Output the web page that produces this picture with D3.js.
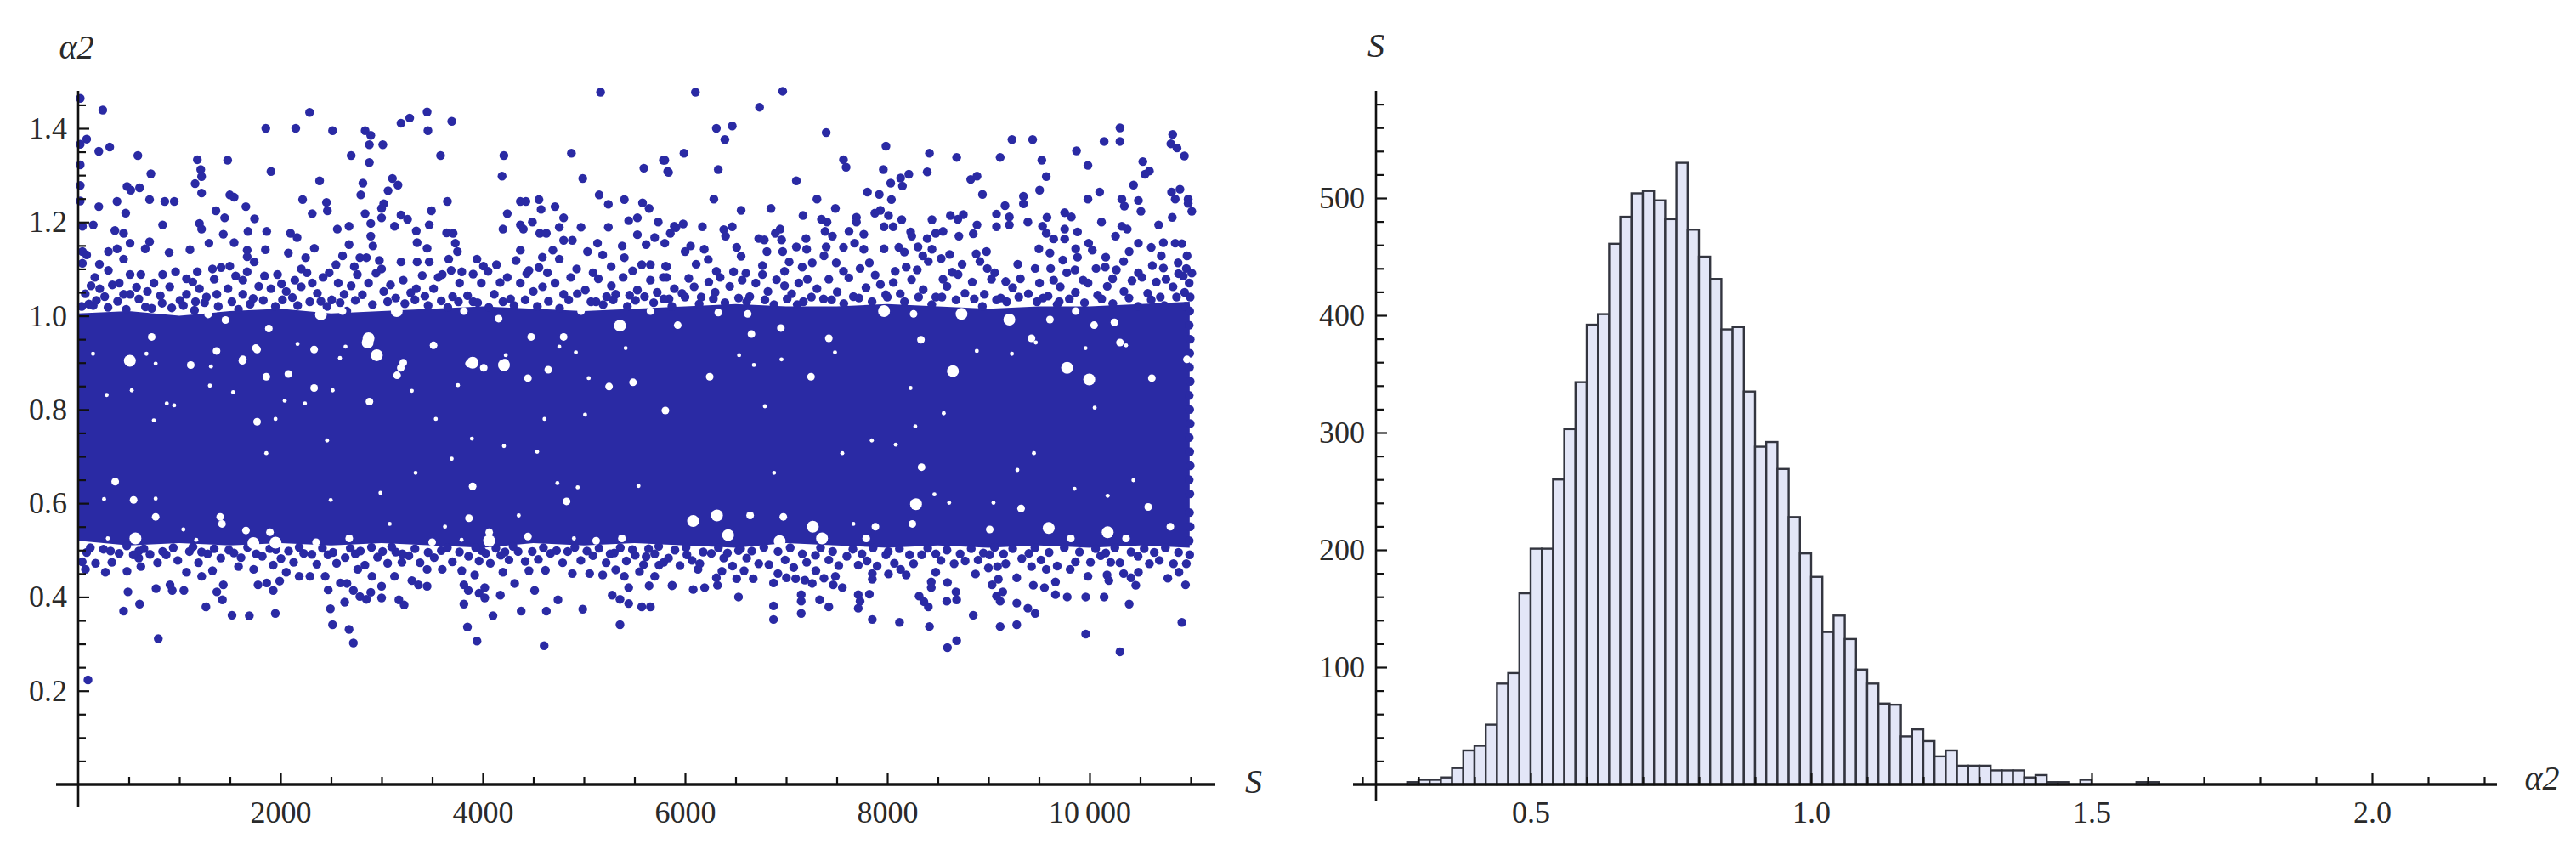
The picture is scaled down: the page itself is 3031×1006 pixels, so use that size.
<!DOCTYPE html>
<html><head><meta charset="utf-8">
<script src="https://cdn.jsdelivr.net/npm/d3@7"></script>
<style>html,body{margin:0;background:#fff}svg{display:block}text{font-family:"Liberation Serif",serif;fill:#2a2a2a}</style>
</head><body><svg id="c" width="3031" height="1006"></svg>
<script>
// In the solid middle of the cloud single points cannot be resolved, so it is an estimated
// envelope (coreS/coreLow/coreHigh) with the visible white gaps listed by size.
// upperExtra, lowerExtra, upperEdge and lowerEdge are hand-estimated dots for the busy zones next to the solid core.
const upperLeft=[[243,1.439],[20,1.464],[2288,1.434],[3450,1.435],[3694,1.415],[3278,1.422],[3192,1.411],[1855,1.4],[2151,1.4],[2515,1.395],[2837,1.395],[2893,1.385],[3458,1.395],[84,1.377],[20,1.366],[204,1.351],[312,1.36],[590,1.342],[1178,1.333],[1478,1.332],[1212,1.312],[1220,1.297],[719,1.303],[1906,1.308],[2699,1.342],[2879,1.365],[3012,1.365],[2879,1.327],[3583,1.342],[4209,1.342],[4877,1.347],[5165,1.477],[5786,1.332],[5593,1.315],[5829,1.308],[4191,1.298],[4989,1.293],[2387,1.288],[2815,1.283],[3107,1.293],[3162,1.279],[483,1.276],[607,1.273],[520,1.268],[1156,1.282],[1220,1.262],[1499,1.258],[1542,1.253],[2794,1.258],[3064,1.267],[706,1.248],[856,1.244],[950,1.244],[384,1.244],[204,1.233],[2219,1.248],[2455,1.242],[2464,1.224],[1658,1.233],[3021,1.239],[3000,1.229],[3651,1.244],[4372,1.244],[4427,1.244],[4556,1.248],[4577,1.227],[4715,1.233],[5151,1.258],[5242,1.238],[5400,1.248],[5580,1.241],[5645,1.229],[1362,1.224],[1448,1.209],[1744,1.207],[470,1.219],[2314,1.218],[2837,1.218],[3493,1.224],[3192,1.215],[3257,1.206],[4243,1.218],[4800,1.209],[5529,1.209],[5443,1.203],[5735,1.2],[835,1.194],[149,1.194],[42,1.191],[1199,1.197],[1220,1.185],[2893,1.197],[3000,1.209],[2678,1.191],[2562,1.185],[3128,1.191],[3471,1.194],[3343,1.181],[4200,1.185],[4372,1.194],[4402,1.185],[4491,1.2],[4757,1.189],[4972,1.189],[5242,1.189],[4564,1.176],[4629,1.176],[363,1.182],[449,1.176],[1679,1.18],[1864,1.18],[1435,1.174],[2099,1.176],[3643,1.177],[3707,1.176],[20,1.322],[20,1.278],[20,1.245]];
const midLeft=[[42,1.137],[84,1.13],[42,1.112],[299,1.137],[385,1.143],[513,1.155],[663,1.143],[706,1.158],[449,1.121],[299,1.097],[899,1.135],[1105,1.141],[1293,1.155],[1542,1.156],[1671,1.14],[1671,1.126],[1851,1.141],[2078,1.134],[2164,1.167],[2335,1.144],[2249,1.124],[2206,1.1],[2678,1.152],[2614,1.128],[2549,1.109],[2785,1.124],[2850,1.124],[2893,1.17],[2914,1.149],[2978,1.118],[3000,1.1],[3192,1.115],[3351,1.156],[3450,1.144],[3351,1.115],[3471,1.115],[3664,1.121],[3729,1.155],[3750,1.137],[3943,1.121],[4007,1.106],[4136,1.109],[4329,1.118],[4372,1.14],[4457,1.097],[4556,1.103],[4693,1.14],[4757,1.121],[4800,1.161],[4886,1.161],[4929,1.1],[5036,1.137],[5135,1.155],[5186,1.13],[5379,1.149],[5400,1.124],[5529,1.173],[5615,1.152],[5700,1.167],[5572,1.109],[5658,1.109],[5808,1.106],[5894,1.191],
[127,1.064],[213,1.058],[106,1.025],[513,1.088],[406,1.07],[449,1.046],[620,1.088],[749,1.07],[685,1.052],[513,1.046],[835,1.088],[963,1.094],[1071,1.079],[1071,1.046],[1199,1.058],[1178,1.094],[1328,1.1],[1413,1.103],[1499,1.106],[1371,1.046],[1628,1.076],[1671,1.094],[1628,1.046],[1842,1.085],[1971,1.088],[1906,1.058],[2057,1.052],[2142,1.076],[2314,1.07],[2421,1.082],[2571,1.07],[2699,1.064],[2871,1.07],[3021,1.052],[3214,1.076],[3343,1.058],[3514,1.058],[3600,1.088],[3771,1.07],[3793,1.094],[3986,1.07],[4114,1.046],[4243,1.082],[4372,1.07],[4500,1.052],[4715,1.07],[4800,1.046],[5014,1.055],[5143,1.079],[5272,1.064],[5315,1.046],[5529,1.055],[5658,1.076],[5786,1.082],[5894,1.058],[2400,1.031],[2507,1.034],[2656,1.01],[727,1.016],[149,1.022]];
const upperRight=[[6103,1.477],[6966,1.479],[6737,1.445],[6310,1.4],[6467,1.405],[6394,1.376],[7396,1.391],[10301,1.401],[10301,1.372],[10144,1.372],[9233,1.376],[9437,1.376],[10822,1.387],[10804,1.367],[10865,1.358],[10938,1.341],[7987,1.362],[8417,1.347],[5990,1.347],[5800,1.332],[5837,1.306],[6329,1.312],[7567,1.333],[7593,1.317],[8686,1.338],[9116,1.338],[9528,1.332],[9871,1.352],[9984,1.321],[10527,1.329],[10592,1.309],[10548,1.302],[7961,1.312],[8395,1.307],[8213,1.302],[8132,1.294],[8150,1.277],[8034,1.283],[8887,1.298],[8825,1.291],[9572,1.297],[7101,1.288],[10435,1.279],[9506,1.268],[7804,1.264],[7921,1.259],[8941,1.259],[10100,1.264],[9984,1.249],[10811,1.264],[10894,1.27],[10847,1.249],[10319,1.249],[10344,1.234],[10483,1.246],[10508,1.223],[10975,1.249],[10975,1.24],[11011,1.223],[6285,1.249],[7305,1.249],[8041,1.248],[9346,1.255],[9346,1.239],[9164,1.235],[7487,1.229],[6850,1.229],[6555,1.225],[7932,1.225],[7877,1.219],[8012,1.214],[7167,1.214],[9080,1.217],[8624,1.214],[8752,1.216],[8697,1.206],[9754,1.22],[9820,1.211],[9579,1.21],[10818,1.21],[7695,1.21],[7695,1.2],[7349,1.206],[7404,1.2],[8143,1.205],[8442,1.205],[9207,1.211],[9207,1.194],[9390,1.2],[10118,1.2],[8887,1.194],[9080,1.19],[10683,1.194],[10319,1.191],[10373,1.185],[10257,1.17],[5982,1.196],[5910,1.188],[5855,1.176],[5800,1.155],[6172,1.19],[6467,1.19],[6383,1.184],[6401,1.17],[6941,1.185],[6893,1.176],[7968,1.19],[8059,1.19],[7622,1.18],[7768,1.174],[7385,1.18],[7458,1.17],[8231,1.179],[8242,1.17],[8551,1.18],[8479,1.176],[8850,1.175],[8708,1.17],[8395,1.165],[9535,1.191],[9572,1.176],[9645,1.164],[9754,1.185],[9881,1.179],[9754,1.164],[6729,1.165],[6784,1.162],[6955,1.162],[7196,1.165]];
const midRight=[[10483,1.155],[10610,1.146],[10730,1.156],[10847,1.155],[10913,1.154],[9991,1.155],[10027,1.14],[6055,1.149],[6001,1.137],[6190,1.142],[6511,1.146],[6555,1.127],[6810,1.137],[6966,1.137],[7101,1.147],[7203,1.142],[7396,1.147],[7374,1.128],[7567,1.146],[7677,1.155],[7768,1.142],[7968,1.143],[8114,1.146],[8169,1.136],[8304,1.147],[8442,1.142],[8351,1.128],[8617,1.131],[8533,1.122],[8981,1.137],[8879,1.132],[8916,1.116],[9499,1.143],[9608,1.134],[9736,1.119],[9863,1.143],[9881,1.125],[10392,1.137],[10337,1.116],[10709,1.128],[10964,1.128],[10876,1.113],[10621,1.107],[10730,1.102],[10957,1.101],[11011,1.091],[10927,1.085],[6110,1.11],[5818,1.105],[6310,1.095],[6347,1.082],[6766,1.107],[6766,1.088],[6984,1.095],[7258,1.113],[7159,1.104],[7495,1.113],[7567,1.095],[7823,1.113],[7731,1.101],[8296,1.098],[8078,1.095],[8187,1.104],[8406,1.116],[8642,1.093],[9062,1.092],[8989,1.101],[9462,1.101],[9615,1.101],[9856,1.098],[10064,1.101],[10155,1.104],[10483,1.092],[6602,1.091],[6565,1.076],[7210,1.078],[7422,1.078],[9171,1.073],[9316,1.079],[9645,1.076],[9936,1.076],[8551,1.078],[10756,1.078],[6984,1.064],[10228,1.079],[10519,1.082],[7932,1.067],[6037,1.08],[5818,1.082]];
const upperExtra=[[70,1.047],[165,1.082],[262,1.041],[338,1.066],[577,1.061],[812,1.043],[905,1.062],[1007,1.033],[1133,1.072],[1268,1.04],[1345,1.078],[1481,1.058],[1557,1.085],[1730,1.037],[1785,1.063],[2010,1.068],[2118,1.039],[2205,1.062],[2262,1.092],[2365,1.048],[2482,1.092],[2630,1.046],[2760,1.088],[2810,1.045],[2945,1.091],[3088,1.066],[3140,1.038],[3288,1.049],[3402,1.086],[3428,1.042],[3560,1.082],[3702,1.041],[3688,1.097],[3850,1.043],[3905,1.089],[4052,1.095],[4172,1.071],[4275,1.036],[4435,1.09],[4592,1.062],[4640,1.092],[4870,1.082],[4935,1.047],[5091,1.092],[5225,1.041],[5388,1.082],[5452,1.044],[5482,1.096],[5600,1.041],[5725,1.05],[5842,1.036],[5970,1.048],[6090,1.062],[6160,1.04],[6235,1.072],[6298,1.05],[6442,1.063],[6480,1.094],[6640,1.041],[6700,1.07],[6820,1.052],[6905,1.077],[7055,1.047],[7125,1.07],[7305,1.058],[7370,1.036],[7505,1.051],[7620,1.081],[7665,1.041],[7790,1.06],[7880,1.087],[7985,1.045],[8060,1.071],[8128,1.047],[8240,1.077],[8355,1.056],[8480,1.04],[8590,1.063],[8700,1.088],[8768,1.048],[8840,1.072],[8960,1.046],[9030,1.078],[9122,1.038],[9240,1.06],[9395,1.047],[9505,1.07],[9590,1.042],[9710,1.062],[9775,1.092],[9860,1.05],[9985,1.07],[10080,1.044],[10175,1.063],[10265,1.098],[10340,1.052],[10420,1.075],[10575,1.048],[10660,1.072],[10700,1.04],[10825,1.062],[10880,1.09],[10940,1.05],[3905,1.03],[1160,1.03],[5120,1.03],[7170,1.03],[9700,1.03],[210,1.11],[1740,1.115],[2730,1.105],[4590,1.125],[6230,1.12],[7030,1.115],[8740,1.11],[9290,1.11],[10160,1.125],[5270,1.105]];
const upperEdge=[[35,1.02],[180,1.033],[295,1.018],[390,1.031],[475,1.014],[600,1.036],[665,1.019],[830,1.027],[925,1.017],[1040,1.022],[1150,1.012],[1250,1.028],[1385,1.02],[1520,1.03],[1585,1.014],[1700,1.025],[1830,1.033],[1950,1.02],[2020,1.034],[2170,1.022],[2290,1.03],[2460,1.02],[2590,1.028],[2740,1.033],[2910,1.024],[3060,1.03],[3230,1.026],[3330,1.034],[3460,1.022],[3590,1.032],[3655,1.018],[3760,1.03],[3950,1.028],[4060,1.018],[4200,1.03],[4310,1.022],[4420,1.034],[4540,1.02],[4650,1.031],[4760,1.016],[4850,1.034],[5070,1.03],[5190,1.024],[5290,1.034],[5430,1.02],[5510,1.033],[5690,1.028],[5790,1.036],[5870,1.02],[6000,1.04],[6140,1.025],[6280,1.036],[6395,1.028],[6530,1.038],[6610,1.03],[6790,1.034],[6880,1.024],[7010,1.036],[7110,1.024],[7250,1.04],[7450,1.034],[7570,1.026],[7720,1.038],[7850,1.03],[8000,1.04],[8170,1.03],[8310,1.04],[8440,1.024],[8540,1.04],[8680,1.034],[8860,1.036],[8940,1.02],[9080,1.034],[9180,1.03],[9300,1.04],[9480,1.03],[9540,1.038],[9680,1.024],[9800,1.036],[9950,1.028],[10120,1.036],[10230,1.026],[10390,1.038],[10480,1.02],[10610,1.034],[10740,1.022],[10860,1.04],[10950,1.02]];
const lowerLeft=[[97,0.223],[792,0.311],[449,0.37],[607,0.385],[492,0.411],[269,0.453],[483,0.455],[72,0.459],[333,0.474],[770,0.418],[908,0.426],[930,0.414],[1045,0.414],[1263,0.379],[1371,0.411],[1435,0.426],[1426,0.394],[1521,0.361],[1692,0.36],[1949,0.365],[1778,0.426],[1864,0.43],[1928,0.414],[1992,0.434],[2515,0.341],[2678,0.331],[2721,0.302],[2494,0.375],[2635,0.389],[2472,0.415],[2592,0.43],[2657,0.429],[2721,0.414],[2785,0.401],[2850,0.395],[2893,0.41],[3000,0.423],[3000,0.398],[2905,0.444],[3171,0.394],[3223,0.383],[3128,0.444],[3300,0.435],[3364,0.426],[3450,0.423],[3814,0.385],[3849,0.336],[3943,0.306],[4101,0.36],[4174,0.404],[3964,0.408],[4020,0.42],[4020,0.398],[3814,0.426],[3857,0.414],[3921,0.447],[4316,0.429],[4380,0.37],[4513,0.414],[4629,0.37],[4607,0.296],[4744,0.394],[4989,0.374],[5357,0.341],[5280,0.404],[5357,0.395],[5443,0.386],[5443,0.42],[5572,0.379],[5658,0.379],[5645,0.424],[5872,0.424],[5700,0.444],[5550,0.454],[5315,0.458],[5400,0.444],[5743,0.468],[1071,0.453],[1221,0.444],[1328,0.456],[1585,0.465],[1735,0.459],[1928,0.468],[2057,0.453],[2185,0.444],[2292,0.444],[2442,0.444],[2764,0.459],[3201,0.474],[3450,0.459],[3600,0.459],[3793,0.456],[3964,0.477],[4200,0.453],[4457,0.456],[4620,0.457],[4886,0.45],[5057,0.45],[5186,0.447],[4179,0.489],[5507,0.489],[5615,0.486],[84,0.495],[599,0.483],[599,0.498],[620,0.465]];
const lowerRight=[[5873,0.425],[6081,0.416],[6194,0.42],[6321,0.425],[6529,0.4],[6875,0.381],[6875,0.352],[7149,0.405],[7149,0.391],[7149,0.365],[7331,0.394],[7422,0.379],[7713,0.405],[7823,0.406],[7731,0.391],[7713,0.376],[7852,0.352],[8121,0.346],[8417,0.337],[8686,0.307],[8595,0.292],[8315,0.402],[8362,0.39],[8406,0.379],[8588,0.391],[8679,0.411],[8686,0.394],[8850,0.361],[9116,0.337],[9280,0.341],[9962,0.321],[10301,0.283],[10913,0.346],[10392,0.385],[9462,0.365],[9390,0.376],[9280,0.387],[9116,0.391],[9080,0.402],[9142,0.411],[9663,0.405],[9779,0.4],[9962,0.4],[10144,0.4],[9444,0.425],[9554,0.42],[9663,0.432],[9984,0.444],[10173,0.447],[10191,0.435],[10337,0.45],[10457,0.425],[10410,0.441],[10774,0.44],[10949,0.426],[9036,0.426],[9098,0.438],[8435,0.42],[8435,0.432],[8595,0.431],[8872,0.449],[8012,0.449],[7852,0.45],[7852,0.438],[7556,0.42],[7466,0.426],[7487,0.444],[7374,0.44],[7258,0.429],[7185,0.436],[7094,0.439],[7003,0.441],[6919,0.45],[6875,0.43],[6675,0.439],[6584,0.456],[6511,0.439],[6365,0.455],[6310,0.441],[6128,0.459],[7294,0.456],[8187,0.447],[8132,0.459],[8479,0.453],[9000,0.462],[9280,0.441],[9572,0.459],[9808,0.459],[10483,0.453],[10884,0.453],[5837,0.483],[6019,0.49],[6383,0.483],[6729,0.471],[6529,0.499],[7203,0.474],[7422,0.479],[7713,0.468],[7987,0.49],[8260,0.471],[8661,0.471],[8898,0.479],[9171,0.471],[9426,0.465],[10009,0.474],[10209,0.474],[10592,0.471],[10957,0.471],[6146,0.471]];
const lowerExtra=[[40,0.475],[172,0.472],[250,0.502],[405,0.493],[480,0.509],[710,0.491],[785,0.473],[870,0.49],[985,0.478],[1100,0.497],[1190,0.473],[1280,0.492],[1410,0.483],[1490,0.5],[1610,0.484],[1820,0.487],[1895,0.503],[2005,0.482],[2130,0.474],[2230,0.493],[2360,0.47],[2470,0.49],[2555,0.472],[2640,0.484],[2740,0.492],[2835,0.468],[2960,0.485],[3060,0.472],[3140,0.496],[3270,0.488],[3380,0.473],[3520,0.484],[3590,0.499],[3700,0.475],[3860,0.487],[3990,0.499],[4075,0.472],[4260,0.479],[4350,0.497],[4420,0.476],[4550,0.48],[4670,0.493],[4790,0.473],[4840,0.497],[4970,0.478],[5090,0.488],[5220,0.473],[5300,0.494],[5420,0.477],[5590,0.469],[5700,0.492],[5790,0.474],[5950,0.467],[6070,0.478],[6260,0.493],[6470,0.466],[6610,0.483],[6830,0.469],[6990,0.479],[7075,0.463],[7290,0.489],[7520,0.467],[7600,0.487],[7800,0.477],[7900,0.466],[8070,0.472],[8340,0.49],[8530,0.478],[8770,0.477],[9010,0.49],[9090,0.465],[9330,0.482],[9520,0.479],[9680,0.466],[9860,0.475],[10110,0.488],[10300,0.473],[10480,0.487],[10690,0.478],[10830,0.471]];
const lowerEdge=[[120,0.505],[320,0.498],[545,0.49],[650,0.503],[835,0.497],[940,0.505],[1135,0.507],[1220,0.496],[1345,0.503],[1540,0.494],[1675,0.506],[1760,0.492],[1955,0.501],[2080,0.498],[2185,0.506],[2310,0.491],[2415,0.504],[2520,0.495],[2690,0.504],[2790,0.498],[2900,0.506],[3010,0.497],[3100,0.507],[3205,0.492],[3330,0.503],[3460,0.495],[3650,0.505],[3770,0.496],[3930,0.505],[4030,0.493],[4130,0.504],[4220,0.496],[4300,0.508],[4490,0.497],[4600,0.505],[4730,0.499],[4910,0.506],[5030,0.498],[5150,0.504],[5260,0.492],[5360,0.505],[5480,0.501],[5640,0.503],[5740,0.508],[5900,0.5],[6010,0.506],[6180,0.496],[6330,0.505],[6420,0.494],[6550,0.503],[6660,0.498],[6780,0.506],[6920,0.497],[7040,0.505],[7160,0.492],[7340,0.505],[7460,0.497],[7660,0.502],[7750,0.492],[7860,0.505],[8010,0.497],[8120,0.503],[8220,0.49],[8400,0.504],[8480,0.492],[8590,0.5],[8720,0.492],[8830,0.503],[8950,0.494],[9060,0.506],[9150,0.492],[9240,0.503],[9400,0.493],[9460,0.505],[9600,0.495],[9750,0.505],[9900,0.496],[10060,0.503],[10160,0.494],[10250,0.505],[10410,0.496],[10540,0.503],[10640,0.495],[10750,0.505],[10880,0.495]];
const rightEdge=[[10990,0.49],[10985,0.52],[10995,0.55],[10988,0.58],[10992,0.62],[10985,0.65],[10995,0.68],[10990,0.71],[10985,0.74],[10995,0.77],[10990,0.8],[10985,0.83],[10995,0.86],[10988,0.89],[10990,0.92],[10995,0.95],[10985,0.98],[10990,1.01],[10995,1.04],[10985,1.07]];
const coreS=[0,500,1000,1500,2000,2500,3000,3500,4000,4500,5000,5500,6000,6500,7000,7500,8000,8500,9000,9500,10000,10500,10990];
const coreHigh=[1.005,1.01,1.0,1.01,1.015,1.005,1.01,1.015,1.02,1.015,1.01,1.015,1.02,1.025,1.02,1.02,1.025,1.02,1.015,1.02,1.02,1.025,1.03];
const coreLow=[.52,.51,.515,.51,.515,.51,.515,.51,.505,.515,.51,.515,.51,.505,.515,.51,.505,.51,.505,.51,.505,.51,.505];
const gapsLarge=[[511,0.904],[2862,0.943],[2953,0.916],[4210,0.895],[566,0.525],[1732,0.515],[1951,0.516],[4064,0.52],[8649,0.882],[9778,0.889],[8284,0.598],[6316,0.574],[6080,0.562],[6426,0.532],[7264,0.55],[7355,0.525],[6936,0.519],[9596,0.547],[10179,0.538],[7968,1.01],[8734,1.004],[9207,0.992],[2871,0.952],[2400,1.003],[3150,1.01],[3900,0.9],[5357,0.979],[9997,0.864]];
const gapsMedium=[[1113,0.895],[1368,0.925],[1623,0.904],[1769,0.928],[1860,0.87],[2078,0.876],[2333,0.928],[3190,0.889],[3153,0.873],[3864,0.898],[4010,0.889],[4648,0.885],[4447,0.867],[5249,0.849],[5486,0.858],[2333,0.846],[2880,0.817],[1769,0.774],[366,0.646],[3900,0.636],[548,0.607],[4829,0.604],[766,0.571],[1404,0.571],[1422,0.556],[3864,0.568],[1659,0.542],[1896,0.538],[2352,0.517],[3500,0.517],[4064,0.538],[4447,0.529],[2680,0.525],[5376,0.525],[5121,0.52],[6244,0.87],[7246,0.87],[10616,0.867],[10963,0.907],[5806,0.798],[8339,0.677],[9323,0.589],[10580,0.592],[6644,0.574],[6972,0.571],[7883,0.55],[7792,0.525],[8248,0.556],[9013,0.544],[10361,0.525],[10799,0.55],[9815,0.525],[8260,1.004],[9863,1.01],[10246,0.986],[9608,0.992],[6948,0.974],[6657,0.961],[7422,0.952],[6329,1.007],[8333,0.949],[9426,0.952],[10301,0.943],[5928,0.98],[6620,1.004],[10045,0.98],[2614,1.01],[4157,0.994],[727,0.955],[4221,0.9],[513,0.907],[1628,0.907],[3214,0.9],[4479,0.955],[4800,0.955],[1285,1.003],[1756,0.931],[3514,0.937],[1456,0.991],[3814,1.01],[4972,1.01],[5658,1.01],[1885,0.973]];
const gapsSmall=[[147,0.919],[675,0.919],[766,0.898],[1313,0.892],[2169,0.94],[2588,0.91],[2643,0.934],[3500,0.934],[4228,0.916],[4757,0.934],[4921,0.922],[5413,0.931],[5048,0.867],[3755,0.852],[2516,0.841],[530,0.841],[282,0.831],[1302,0.851],[1532,0.837],[876,0.813],[949,0.809],[2042,0.819],[2242,0.813],[3299,0.84],[748,0.777],[1951,0.78],[3536,0.78],[5012,0.789],[4611,0.78],[3893,0.738],[2461,0.734],[4210,0.722],[4538,0.71],[1860,0.707],[3693,0.695],[2989,0.622],[3336,0.665],[256,0.609],[766,0.61],[2497,0.607],[4738,0.643],[4939,0.634],[5540,0.637],[4356,0.574],[3080,0.556],[3627,0.55],[1040,0.544],[1167,0.522],[3791,0.522],[4902,0.525],[293,0.525],[6681,0.895],[6954,0.907],[6535,0.916],[7483,0.922],[8885,0.925],[9232,0.919],[10361,0.937],[9960,0.931],[9468,0.943],[8230,0.846],[8558,0.792],[10051,0.804],[6790,0.807],[8277,0.764],[7847,0.734],[8084,0.725],[7555,0.707],[9450,0.707],[9286,0.671],[6881,0.665],[9851,0.631],[10434,0.649],[8612,0.601],[10179,0.616],[8466,0.619],[9050,0.601],[7665,0.556]];
const sMajor=[2000,4000,6000,8000,10000];
const sMinor=[500,1000,1500,2500,3000,3500,4500,5000,5500,6500,7000,7500,8500,9000,9500,10500,11000];
const aMajor=[0.2,0.4,0.6,0.8,1.0,1.2,1.4];
const aMinor=[0.05,0.1,0.15,0.25,0.3,0.35,0.45,0.5,0.55,0.65,0.7,0.75,0.85,0.9,0.95,1.05,1.1,1.15,1.25,1.3,1.35,1.45];
const binStart=[0.28,0.30,0.32,0.34,0.36,0.38,0.40,0.42,0.44,0.46,0.48,0.50,0.52,0.54,0.56,0.58,0.60,0.62,0.64,0.66,0.68,0.70,0.72,0.74,0.76,0.78,0.80,0.82,0.84,0.86,0.88,0.90,0.92,0.94,0.96,0.98,1.00,1.02,1.04,1.06,1.08,1.10,1.12,1.14,1.16,1.18,1.20,1.22,1.24,1.26,1.28,1.30,1.32,1.34,1.36,1.38,1.40,1.42,1.44,1.48,1.58,1.60];
const binCount=[2,4,4,6,14,29,33,51,86,95,163,201,201,260,303,343,392,401,461,484,504,506,498,482,530,473,450,431,388,390,335,288,292,269,228,197,177,130,144,124,98,86,69,68,41,47,37,24,29,16,16,16,12,12,12,6,8,2,2,4,2,2];
const hMajor=[0.5,1.0,1.5,2.0];
const hMinor=[0.2,0.3,0.4,0.6,0.7,0.8,0.9,1.1,1.2,1.3,1.4,1.6,1.7,1.8,1.9,2.1,2.2];
const cMajor=[100,200,300,400,500];
const cMinor=[20,40,60,80,120,140,160,180,220,240,260,280,320,340,360,380,420,440,460,480,520,540,560,580];

const svg=d3.select("#c");
const FS=36, ink="#111";
const xL=d3.scaleLinear().domain([0,11000]).range([92,1401]);
const yL=d3.scaleLinear().domain([0,1.4]).range([923,151]);
const xR=d3.scaleLinear().domain([0.5,2.0]).range([1801,2791]);
const yR=d3.scaleLinear().domain([0,500]).range([923,233]);

// scatter
const gS=svg.append("g");
const dotColor="#2a2aa4";
gS.append("path").datum(coreS.map((s,i)=>({s,lo:coreLow[i],hi:coreHigh[i]})))
  .attr("fill",dotColor)
  .attr("d",d3.area().x(d=>xL(d.s)).y0(d=>yL(d.lo)).y1(d=>yL(d.hi)));
const dots=[].concat(upperLeft,midLeft,upperRight,midRight,upperExtra,upperEdge,lowerLeft,lowerRight,lowerExtra,lowerEdge,rightEdge);
gS.append("g").selectAll("circle").data(dots).join("circle")
  .attr("cx",d=>xL(d[0])).attr("cy",d=>yL(d[1])).attr("r",5.2).attr("fill",dotColor);
[[gapsLarge,7],[gapsMedium,4.5],[gapsSmall,2.4]].forEach(([arr,r])=>{
  gS.append("g").selectAll("circle").data(arr).join("circle")
    .attr("cx",d=>xL(d[0])).attr("cy",d=>yL(d[1])).attr("r",r).attr("fill","#fff");
});

// histogram
const gH=svg.append("g");
gH.selectAll("rect").data(binStart.map((b,i)=>({b,c:binCount[i]}))).join("rect")
  .attr("x",d=>xR(d.b)).attr("width",d=>xR(d.b+0.02)-xR(d.b))
  .attr("y",d=>yR(d.c)).attr("height",d=>yR(0)-yR(d.c))
  .attr("fill","#e3e6f7").attr("stroke","#33353f").attr("stroke-width",2.4);

function axes(x,y,xMaj,xMin,yMaj,yMin,xFmt,yFmt,by,xStart,xEnd,yTop,yBot){
  const g=svg.append("g");
  const bx=y(0);
  const ax=(gen,ticks,len,pad,fmt,tr)=>{
    const a=g.append("g").attr("transform",tr)
      .call(gen.tickValues(ticks).tickSize(-len).tickSizeOuter(0).tickPadding(pad).tickFormat(fmt));
    a.select(".domain").remove();
    a.selectAll("line").attr("stroke",ink).attr("stroke-width",2.2);
    a.selectAll("text").style("font-size",FS+"px").attr("fill","#2a2a2a");
    return a;
  };
  ax(d3.axisBottom(x),xMin,9,0,()=>"",`translate(0,${bx})`);
  ax(d3.axisBottom(x),xMaj,13,19,xFmt,`translate(0,${bx})`);
  ax(d3.axisLeft(y),yMin,9,0,()=>"",`translate(${by},0)`);
  ax(d3.axisLeft(y),yMaj,13,13,yFmt,`translate(${by},0)`);
  g.append("line").attr("x1",xStart).attr("x2",xEnd).attr("y1",bx).attr("y2",bx).attr("stroke",ink).attr("stroke-width",3.4);
  g.append("line").attr("x1",by).attr("x2",by).attr("y1",yTop).attr("y2",yBot).attr("stroke",ink).attr("stroke-width",2.6);
}
axes(xL,yL,sMajor,sMinor,aMajor,aMinor,
  d=>d===10000?"10\u2009000":String(d),d3.format(".1f"),92,66,1430,107,950);
axes(xR,yR,hMajor,hMinor,cMajor,cMinor,d3.format(".1f"),String,1619,1592,2938,107,942);

const lab=(t,x,y)=>svg.append("text").attr("x",x).attr("y",y).attr("text-anchor","middle")
    .attr("font-style","italic").style("font-size","40px").attr("dominant-baseline","middle").text(t);
lab("\u03b12",90,60);lab("S",1475,924);lab("S",1619,58);lab("\u03b12",2991,920);
</script></body></html>
